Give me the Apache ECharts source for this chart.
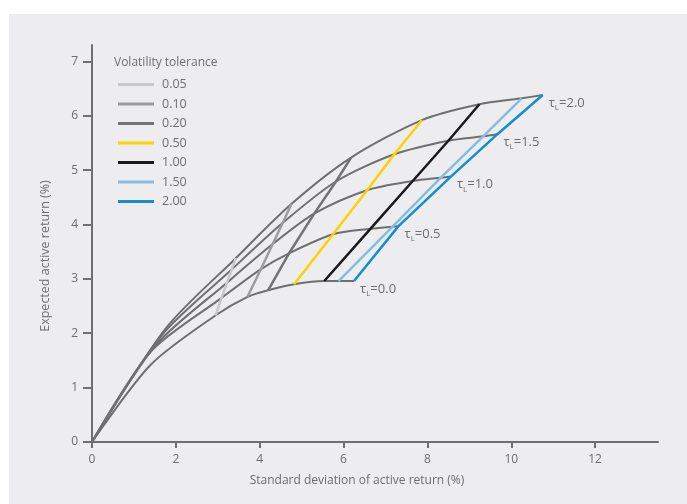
<!DOCTYPE html>
<html>
<head>
<meta charset="utf-8">
<script src="https://cdn.jsdelivr.net/npm/echarts@6/dist/echarts.min.js"></script>
<style>
  html, body { margin: 0; padding: 0; background: #ffffff; }
  #wrap { position: relative; width: 687px; height: 504px; }
  #bg { position: absolute; left: 9px; top: 14px; right: 0; bottom: 0; background: #ededef; }
  #chart { position: absolute; left: 0; top: 0; width: 687px; height: 504px; }
</style>
</head>
<body>
<div id="wrap">
  <div id="bg"></div>
  <div id="chart"></div>
</div>
<script>
// frontier points: origin, kink, then one point per volatility tolerance
const tauNames = ["0.0", "0.5", "1.0", "1.5", "2.0"];
const tolNames = ["0.05", "0.10", "0.20", "0.50", "1.00", "1.50", "2.00"];

const sdTau00 = [0, 1.40, 2.95, 3.71, 4.20, 4.82, 5.54, 5.88, 6.25];
const retTau00 = [0, 1.42, 2.33, 2.67, 2.79, 2.90, 2.96, 2.96, 2.96];
const sdTau05 = [0, 1.40, 3.09, 4.03, 4.70, 5.75, 6.64, 7.17, 7.31];
const retTau05 = [0, 1.66, 2.65, 3.18, 3.47, 3.82, 3.92, 3.96, 3.97];
const sdTau10 = [0, 1.52, 3.22, 4.31, 5.30, 6.56, 7.65, 8.32, 8.56];
const retTau10 = [0, 1.78, 2.93, 3.64, 4.20, 4.63, 4.80, 4.86, 4.88];
const sdTau15 = [0, 1.64, 3.33, 4.55, 5.82, 7.21, 8.50, 9.33, 9.67];
const retTau15 = [0, 1.94, 3.17, 4.03, 4.79, 5.29, 5.54, 5.62, 5.66];
const sdTau20 = [0, 1.76, 3.43, 4.76, 6.18, 7.87, 9.24, 10.25, 10.75];
const retTau20 = [0, 2.09, 3.38, 4.38, 5.23, 5.92, 6.21, 6.32, 6.38];

const xTicks = [0, 2, 4, 6, 8, 10, 12];
const yTicks = [0, 1, 2, 3, 4, 5, 6, 7];

const sdAll = [sdTau00, sdTau05, sdTau10, sdTau15, sdTau20];
const retAll = [retTau00, retTau05, retTau10, retTau15, retTau20];
const tolColors = ["#c9c9c9", "#9d9d9d", "#737373", "#fcd200", "#1a1a1a", "#85bde4", "#168dce"];

const greyText = "#6e6e6e";
const font = "Open Sans";

const frontierSeries = tauNames.map((t, i) => ({
  name: "tau " + t,
  type: "line",
  data: sdAll[i].map((x, j) => [x, retAll[i][j]]),
  showSymbol: false,
  smooth: 0.28,
  z: 2,
  lineStyle: { color: "#6f6f6f", width: 2 },
  itemStyle: { color: "#6f6f6f" },
  endLabel: {
    show: true,
    distance: 6,
    offset: [0, 8],
    formatter: "{t|τ}{s|L}{t|=" + t + "}",
    rich: {
      t: { fontSize: 13, color: greyText, fontFamily: font, lineHeight: 18 },
      s: { fontSize: 8, color: greyText, fontFamily: font, verticalAlign: "bottom" },
    },
  },
  emphasis: { disabled: true },
}));

const tolSeries = tolNames.map((name, k) => ({
  name: name,
  type: "line",
  data: sdAll.map((sd, i) => [sd[k + 2], retAll[i][k + 2]]),
  showSymbol: false,
  z: 3,
  lineStyle: { color: tolColors[k], width: 2.5 },
  itemStyle: { color: tolColors[k] },
  emphasis: { disabled: true },
}));

const chart = echarts.init(document.getElementById("chart"));
chart.setOption({
  backgroundColor: "transparent",
  animation: false,
  textStyle: { fontFamily: font },
  title: {
    text: "Volatility tolerance",
    left: 109,
    top: 52,
    textStyle: { fontSize: 12, fontWeight: "normal", color: greyText, fontFamily: font },
  },
  legend: {
    data: tolNames,
    orient: "vertical",
    left: 113,
    top: 73,
    icon: "rect",
    itemWidth: 36,
    itemHeight: 3,
    itemGap: 6.5,
    textStyle: { fontSize: 12.5, color: greyText, lineHeight: 12, padding: [0, 0, 0, 3], fontFamily: font },
  },
  grid: { left: 92, right: 29, top: 45, bottom: 62 },
  xAxis: {
    type: "value",
    min: 0,
    max: 13.5,
    splitLine: { show: false },
    axisLine: { lineStyle: { color: "#6f6f6f", width: 2 } },
    axisTick: { show: true, length: 6, customValues: xTicks, lineStyle: { color: "#6f6f6f", width: 2 } },
    axisLabel: { customValues: xTicks, color: greyText, fontSize: 12, margin: 12 },
  },
  yAxis: {
    type: "value",
    min: 0,
    max: 7.3,
    splitLine: { show: false },
    axisLine: { show: true, lineStyle: { color: "#6f6f6f", width: 2 } },
    axisTick: { show: true, length: 9, customValues: yTicks, lineStyle: { color: "#6f6f6f", width: 2 } },
    axisLabel: { customValues: yTicks, color: greyText, fontSize: 12, margin: 14 },
  },
  graphic: [
    {
      type: "text",
      x: 357,
      y: 481,
      style: {
        text: "Standard deviation of active return (%)",
        fill: greyText,
        font: "12px '" + font + "'",
        align: "center",
        verticalAlign: "middle",
      },
    },
    {
      type: "text",
      x: 45,
      y: 256,
      rotation: Math.PI / 2,
      style: {
        text: "Expected active return (%)",
        fill: greyText,
        font: "12.5px '" + font + "'",
        align: "center",
        verticalAlign: "middle",
      },
    },
  ],
  series: frontierSeries.concat(tolSeries),
});
</script>
</body>
</html>
